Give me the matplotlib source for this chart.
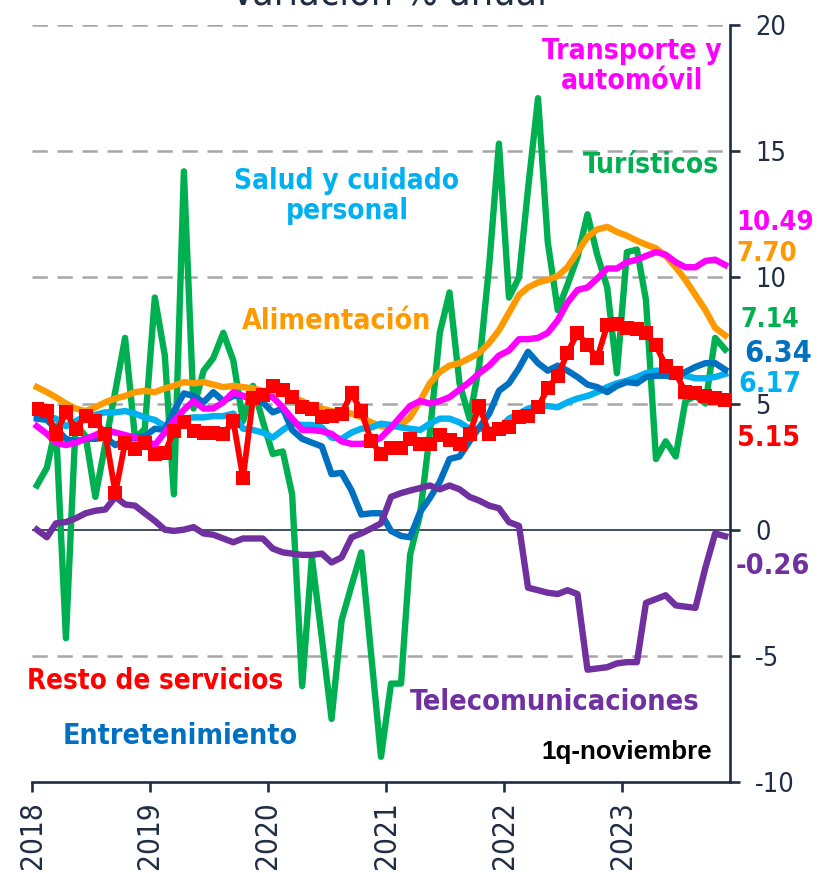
import matplotlib
matplotlib.use("Agg")
import matplotlib.pyplot as plt
from matplotlib import font_manager as fm
import pandas as pd

plt.rcParams["font.family"] = ["Liberation Sans", "DejaVu Sans"]
plt.rcParams["axes.unicode_minus"] = False
plt.rcParams["lines.scale_dashes"] = False

# Monthly observations, Jan-2018 .. Nov-2023 (1q-noviembre)
months = pd.date_range("2018-01-01", "2023-11-01", freq="MS") + pd.Timedelta(days=15)

turisticos = [
    1.75, 2.45, 4.1, -4.3, 4.2, 3.7, 1.3, 3.4, 5.5, 7.6, 3.6, 4.0,
    9.2, 6.9, 1.4, 14.2, 4.8, 6.3, 6.8, 7.8, 6.7, 4.3, 5.7, 4.3,
    3.0, 3.1, 1.4, -6.2, -1.1, -4.3, -7.5, -3.6, -2.2, -0.9, -5.0, -9.0,
    -6.1, -6.1, -1.0, 0.6, 3.8, 7.8, 9.4, 5.8, 4.4, 6.5, 10.5, 15.3,
    9.2, 10.0, 13.5, 17.1, 11.4, 8.7, 9.7, 10.8, 12.5, 10.9, 9.6, 6.2,
    11.0, 11.1, 9.1, 2.8, 3.5, 2.9, 5.1, 5.3, 5.0, 7.6, 7.14,
]
telecom = [
    0.0, -0.3, 0.25, 0.3, 0.45, 0.65, 0.75, 0.8, 1.3, 1.0, 0.95, 0.65,
    0.35, 0.0, -0.05, 0.0, 0.1, -0.15, -0.2, -0.35, -0.5, -0.35, -0.35, -0.35,
    -0.75, -0.9, -0.95, -1.0, -1.0, -0.95, -1.3, -1.1, -0.3, -0.15, 0.05, 0.25,
    1.3, 1.45, 1.55, 1.65, 1.75, 1.6, 1.75, 1.6, 1.3, 1.15, 0.95, 0.85,
    0.3, 0.15, -2.3, -2.4, -2.5, -2.55, -2.4, -2.55, -5.55, -5.5, -5.45, -5.3,
    -5.25, -5.25, -2.9, -2.75, -2.6, -3.0, -3.05, -3.1, -1.5, -0.15, -0.26,
]
resto = [
    4.8, 4.7, 3.8, 4.65, 4.0, 4.5, 4.3, 3.8, 1.45, 3.45, 3.2, 3.45,
    3.0, 3.05, 3.9, 4.25, 3.9, 3.85, 3.85, 3.8, 4.3, 2.05, 5.2, 5.35,
    5.7, 5.55, 5.25, 4.85, 4.8, 4.45, 4.5, 4.6, 5.4, 4.7, 3.5, 3.0,
    3.25, 3.25, 3.6, 3.4, 3.4, 3.75, 3.55, 3.4, 3.8, 4.9, 3.8, 4.0,
    4.05, 4.45, 4.5, 4.85, 5.6, 6.1, 7.0, 7.8, 7.3, 6.8, 8.1, 8.15,
    8.0, 7.95, 7.8, 7.3, 6.5, 6.2, 5.45, 5.4, 5.3, 5.2, 5.15,
]
alimentacion = [
    5.65, 5.45, 5.25, 5.0, 4.8, 4.7, 4.85, 5.05, 5.2, 5.3, 5.45, 5.5,
    5.45, 5.6, 5.7, 5.85, 5.8, 5.85, 5.75, 5.65, 5.7, 5.65, 5.6, 5.5,
    5.5, 5.4, 5.25, 5.1, 4.9, 4.8, 4.7, 4.65, 4.6, 4.45, 4.25, 4.1,
    4.05, 4.15, 4.45, 5.1, 5.8, 6.25, 6.5, 6.6, 6.8, 7.0, 7.4, 7.9,
    8.6, 9.3, 9.6, 9.8, 9.9, 10.05, 10.4, 11.0, 11.6, 11.9, 12.0, 11.8,
    11.65, 11.45, 11.3, 11.15, 10.85, 10.4, 9.9, 9.3, 8.7, 8.0, 7.70,
]
transporte = [
    4.1, 3.8, 3.45, 3.35, 3.45, 3.6, 3.75, 3.95, 3.85, 3.75, 3.65, 3.55,
    3.35, 3.85, 4.3, 4.75, 5.1, 4.8, 4.8, 5.05, 5.45, 5.3, 5.25, 5.3,
    5.25, 4.85, 4.4, 3.95, 3.95, 3.9, 3.8, 3.5, 3.4, 3.4, 3.45, 3.65,
    4.05, 4.5, 4.9, 5.1, 5.0, 5.1, 5.25, 5.55, 5.85, 6.2, 6.5, 6.9,
    7.1, 7.55, 7.55, 7.6, 7.8, 8.3, 9.0, 9.5, 9.6, 9.95, 10.35, 10.35,
    10.6, 10.7, 10.85, 11.0, 10.9, 10.6, 10.4, 10.4, 10.65, 10.7, 10.49,
]
entretenimiento = [
    4.4, 4.35, 4.0, 3.6, 3.5, 3.6, 3.6, 3.65, 3.35, 3.55, 3.65, 3.7,
    4.0, 3.95, 4.7, 5.4, 5.3, 5.05, 5.45, 5.1, 5.3, 5.3, 5.15, 5.05,
    4.65, 4.8, 3.95, 3.6, 3.45, 3.3, 2.2, 2.25, 1.55, 0.6, 0.65, 0.65,
    -0.05, -0.25, -0.3, 0.7, 1.25, 1.9, 2.8, 2.9, 3.5, 4.05, 4.6, 5.5,
    5.8, 6.4, 7.05, 6.6, 6.3, 6.5, 6.3, 6.05, 5.75, 5.65, 5.45, 5.7,
    5.85, 5.8, 6.05, 6.1, 6.1, 6.05, 6.25, 6.45, 6.6, 6.6, 6.34,
]
salud = [
    4.5, 4.5, 4.4, 4.1, 4.3, 4.5, 4.55, 4.65, 4.65, 4.7, 4.6, 4.45,
    4.35, 4.1, 4.3, 4.4, 4.45, 4.45, 4.5, 4.5, 4.6, 4.0, 3.95, 3.85,
    3.65, 3.95, 4.2, 4.15, 4.15, 4.05, 3.65, 3.6, 3.85, 4.0, 4.05, 4.2,
    4.15, 4.05, 4.0, 3.95, 4.2, 4.4, 4.4, 4.25, 4.0, 4.0, 3.95, 4.0,
    4.4, 4.6, 4.8, 4.9, 4.9, 4.85, 5.05, 5.2, 5.3, 5.45, 5.65, 5.8,
    5.9, 6.05, 6.2, 6.3, 6.3, 6.25, 6.1, 6.0, 6.0, 6.05, 6.17,
]

year_ticks = ["2018", "2019", "2020", "2021", "2022", "2023"]
y_ticks = [-10, -5, 0, 5, 10, 15, 20]

GREEN, PURPLE, RED = "#00B050", "#7030A0", "#FF0000"
ORANGE, MAGENTA = "#FF9900", "#FF00FF"
DBLUE, LBLUE = "#0070C0", "#00B0F0"
NAVY = "#1F2D45"


def pick_font(bold):
    """Prefer a narrow sans face; fall back to Liberation Sans."""
    files = [f for f in fm.fontManager.ttflist]
    want_w = (lambda w: w >= 600) if bold else (lambda w: w < 600)

    def weight(f):
        w = f.weight
        if isinstance(w, str):
            w = 700 if "bold" in w.lower() else 400
        return w

    for test in (
        lambda f: f.name == "Liberation Sans Narrow",
        lambda f: f.name.startswith("DejaVu Sans") and "ondensed" in f.fname
        and "Oblique" not in f.fname and "Mono" not in f.fname,
        lambda f: f.name == "Liberation Sans" and f.style == "normal",
    ):
        for f in files:
            if test(f) and f.style == "normal" and want_w(weight(f)):
                return fm.FontProperties(fname=f.fname)
    return fm.FontProperties(family="DejaVu Sans",
                             weight="bold" if bold else "normal")


FB = pick_font(True)
FR = pick_font(False)

W, H = 820, 873
fig = plt.figure(figsize=(W / 100, H / 100), dpi=100)
ax = fig.add_axes([32 / W, (H - 782) / H, 698 / W, 757 / H])

lw = 4.6
ax.plot(months, turisticos, color=GREEN, lw=lw, zorder=3)
ax.plot(months, alimentacion, color=ORANGE, lw=lw, zorder=4)
ax.plot(months, salud, color=LBLUE, lw=lw, zorder=4)
ax.plot(months, entretenimiento, color=DBLUE, lw=lw, zorder=5)
ax.plot(months, telecom, color=PURPLE, lw=lw, zorder=5)
ax.plot(months, transporte, color=MAGENTA, lw=lw, zorder=6)
ax.plot(months, resto, color=RED, lw=4.2, marker="s", markersize=10.5,
        markeredgewidth=0, zorder=7)

# axis frame
ax.set_xlim(pd.Timestamp("2018-01-01"), pd.Timestamp("2023-12-01"))
ax.set_ylim(-10, 20)
for s in ("left", "top"):
    ax.spines[s].set_visible(False)
for s in ("right", "bottom"):
    ax.spines[s].set_color(NAVY)
    ax.spines[s].set_linewidth(1.9)

ax.yaxis.tick_right()
ax.set_yticks(y_ticks)
ax.set_yticklabels([str(v) for v in y_ticks])
ax.tick_params(axis="y", colors=NAVY, length=7, width=1.9, pad=11)

ax.set_xticks([pd.Timestamp(f"{y}-01-01") for y in year_ticks])
ax.set_xticklabels(year_ticks, rotation=90)
ax.tick_params(axis="x", colors=NAVY, length=7, width=1.9, pad=7)

for v in (-5, 5, 10, 15, 20):
    ax.axhline(v, color="#A6A6A6", lw=1.8, dashes=(11, 7), zorder=1)
ax.axhline(0, color=NAVY, lw=1.2, zorder=2)


def px(x, y):
    return x / W, 1 - y / H


fitted = []  # (text, target width in px)

# series names
name_labels = [
    ("Transporte y\nautomóvil", 632, 66, MAGENTA, 179),
    ("Turísticos", 651, 165, GREEN, 136),
    ("Salud y cuidado\npersonal", 347, 196, LBLUE, 225),
    ("Alimentación", 337, 321, ORANGE, 189),
    ("Resto de servicios", 155, 681, RED, 256),
    ("Telecomunicaciones", 555, 702, PURPLE, 290),
    ("Entretenimiento", 180, 736, DBLUE, 235),
]
for txt, x, y, c, w in name_labels:
    t = fig.text(*px(x, y), txt, color=c, fontproperties=FB, fontsize=26,
                 ha="center", va="center", linespacing=1.05)
    fitted.append((t, w))

t = fig.text(*px(712, 752), "1q-noviembre", color="black", fontsize=18.5,
             fontweight="bold", ha="right", va="center",
             family=["Liberation Sans", "DejaVu Sans"])
fitted.append((t, 171))

# latest values beside the right axis
last_labels = [
    (transporte, 736, 223, MAGENTA, 78),
    (alimentacion, 736, 254, ORANGE, 61),
    (turisticos, 740, 320, GREEN, 59),
    (entretenimiento, 744, 354, DBLUE, 68),
    (salud, 738, 384, LBLUE, 63),
    (resto, 737, 438, RED, 63),
    (telecom, 736, 566, PURPLE, 75),
]
for series, x, y, c, w in last_labels:
    t = fig.text(*px(x, y), f"{series[-1]:.2f}", color=c, fontproperties=FB,
                 fontsize=25, ha="left", va="center")
    fitted.append((t, w))

title = fig.text(*px(389, 5), "Variación % anual", color=NAVY,
                 fontproperties=FR, fontsize=26, ha="center", va="baseline")
fitted.append((title, 316))

for lab in ax.get_yticklabels() + ax.get_xticklabels():
    lab.set_fontproperties(FR)
    lab.set_fontsize(22)

# scale each text so its width matches the intended span
renderer = fig.canvas.get_renderer()
for t, w in fitted:
    cur = t.get_window_extent(renderer).width
    t.set_fontsize(t.get_fontsize() * w / cur)

probe = fig.text(0, 0, "2018", fontproperties=FR, fontsize=22)
yr_size = 22 * 68 / probe.get_window_extent(renderer).width
probe2 = fig.text(0, 0, "20", fontproperties=FR, fontsize=22)
y_size = 22 * 31 / probe2.get_window_extent(renderer).width
probe.remove()
probe2.remove()
for lab in ax.get_xticklabels():
    lab.set_fontsize(yr_size)
for lab in ax.get_yticklabels():
    lab.set_fontsize(y_size)

fig.savefig("out.png", dpi=100)
